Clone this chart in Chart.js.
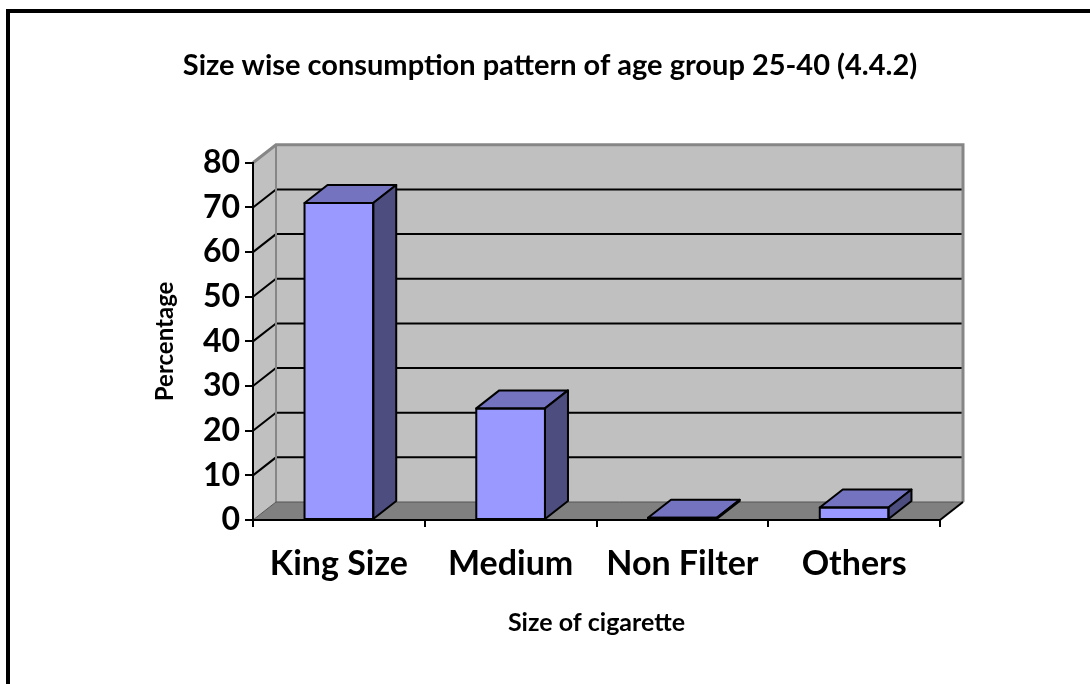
<!DOCTYPE html>
<html>
<head>
<meta charset="utf-8">
<title>Size wise consumption pattern</title>
<script src="https://cdn.jsdelivr.net/npm/chart.js@4.4.1/dist/chart.umd.min.js"></script>
<style>
  html, body { margin: 0; padding: 0; background: #ffffff; }
  canvas { display: block; }
</style>
</head>
<body>
<canvas id="chart" width="1090" height="684"></canvas>
<script>
// ---- data ----
const categories = ['King Size', 'Medium', 'Non Filter', 'Others'];
const percentages = [71, 25, 0.5, 2.8];
const yTickValues = [0, 10, 20, 30, 40, 50, 60, 70, 80];
const chartTitle = 'Size wise consumption pattern of age group 25-40 (4.4.2)';
const xAxisTitle = 'Size of cigarette';
const yAxisTitle = 'Percentage';

// ---- styling ----
const FONT = 'Lato, "Noto Sans", sans-serif';
const DEPTH_X = 23;   // horizontal offset of the back plane
const DEPTH_Y = 18;   // vertical offset of the back plane
const FRONT = '#9999ff';
const TOP = '#7373bf';
const SIDE = '#4d4d80';

function poly(ctx, pts, fill, stroke, lw) {
  ctx.beginPath();
  ctx.moveTo(pts[0][0], pts[0][1]);
  for (let i = 1; i < pts.length; i++) ctx.lineTo(pts[i][0], pts[i][1]);
  ctx.closePath();
  if (fill) { ctx.fillStyle = fill; ctx.fill(); }
  if (stroke) { ctx.strokeStyle = stroke; ctx.lineWidth = lw; ctx.stroke(); }
}

// Frame, walls, floor and the receding gridlines of the 3-D plot box
const plotBox3d = {
  id: 'plotBox3d',
  beforeDraw(chart) {
    const { ctx, chartArea: a, scales: { y } } = chart;
    const L = a.left, R = a.right, T = a.top, B = a.bottom;
    const dx = DEPTH_X, dy = DEPTH_Y;
    ctx.save();

    // outer frame (left and top edges)
    ctx.fillStyle = '#000';
    ctx.fillRect(6, 9, 4, chart.height - 9);
    ctx.fillRect(6, 9, chart.width - 6, 4);

    ctx.lineJoin = 'miter';
    // back wall
    poly(ctx, [[L + dx, T - dy], [R + dx, T - dy], [R + dx, B - dy], [L + dx, B - dy]], '#c0c0c0');
    // side wall
    poly(ctx, [[L, T], [L + dx, T - dy], [L + dx, B - dy], [L, B]], '#c0c0c0');
    // floor
    poly(ctx, [[L, B], [L + dx, B - dy], [R + dx, B - dy], [R, B]], '#808080');

    // gridlines: diagonal on the side wall, horizontal on the back wall
    ctx.strokeStyle = '#000';
    ctx.lineWidth = 2;
    y.ticks.forEach(t => {
      if (t.value <= y.min || t.value >= y.max) return;
      const py = y.getPixelForValue(t.value);
      ctx.beginPath();
      ctx.moveTo(L, py);
      ctx.lineTo(L + dx, py - dy);
      ctx.lineTo(R + dx, py - dy);
      ctx.stroke();
    });

    // wall edges
    ctx.strokeStyle = '#868686';
    ctx.lineWidth = 3;
    ctx.beginPath();
    ctx.moveTo(L, T);
    ctx.lineTo(L + dx, T - dy);
    ctx.lineTo(R + dx, T - dy);
    ctx.lineTo(R + dx, B - dy);
    ctx.stroke();
    ctx.lineWidth = 2;
    ctx.beginPath();
    ctx.moveTo(L + dx, T - dy);
    ctx.lineTo(L + dx, B - dy);
    ctx.stroke();

    // floor edges
    ctx.strokeStyle = '#555';
    ctx.lineWidth = 1;
    ctx.beginPath();
    ctx.moveTo(L, B);
    ctx.lineTo(L + dx, B - dy);
    ctx.lineTo(R + dx, B - dy);
    ctx.stroke();
    ctx.strokeStyle = '#000';
    ctx.lineWidth = 2;
    ctx.beginPath();
    ctx.moveTo(R, B);
    ctx.lineTo(R + dx, B - dy);
    ctx.stroke();

    ctx.restore();
  }
};

// Top and side faces of each column
const columns3d = {
  id: 'columns3d',
  afterDatasetsDraw(chart) {
    const { ctx } = chart;
    const dx = DEPTH_X, dy = DEPTH_Y;
    ctx.save();
    ctx.lineJoin = 'round';
    chart.getDatasetMeta(0).data.forEach(bar => {
      const { x, y, base, width } = bar.getProps(['x', 'y', 'base', 'width'], true);
      const x0 = x - width / 2, x1 = x + width / 2;
      poly(ctx, [[x0, y], [x0 + dx, y - dy], [x1 + dx, y - dy], [x1, y]], TOP, '#000', 2);
      poly(ctx, [[x1, y], [x1 + dx, y - dy], [x1 + dx, base - dy], [x1, base]], SIDE, '#000', 2);
      poly(ctx, [[x0, y], [x1, y], [x1, base], [x0, base]], null, '#000', 2);
    });
    ctx.restore();
  }
};

new Chart(document.getElementById('chart'), {
  type: 'bar',
  data: {
    labels: categories,
    datasets: [{
      data: percentages,
      backgroundColor: FRONT,
      borderColor: '#000',
      borderWidth: 0,
      barPercentage: 0.4,
      categoryPercentage: 1.0
    }]
  },
  options: {
    responsive: false,
    animation: false,
    devicePixelRatio: 1,
    layout: { padding: { left: 10, right: 0, top: 0, bottom: 0 } },
    plugins: {
      legend: { display: false },
      tooltip: { enabled: false },
      title: {
        display: true,
        text: chartTitle,
        color: '#000',
        font: { family: FONT, size: 29, weight: 'bold' },
        padding: { top: 48, bottom: 80 }
      }
    },
    scales: {
      x: {
        ticks: {
          color: '#000',
          font: { family: FONT, size: 34, weight: 'bold' },
          padding: 17,
          maxRotation: 0,
          autoSkip: false
        },
        grid: { drawOnChartArea: false, drawTicks: true, tickLength: 7, color: '#000', lineWidth: 2, offset: true },
        border: { display: true, color: '#000', width: 2 },
        title: {
          display: true,
          text: xAxisTitle,
          color: '#000',
          font: { family: FONT, size: 25, weight: 'bold' },
          padding: { top: 0, bottom: 46 }
        },
        afterFit(scale) { scale.height = 164; }
      },
      y: {
        min: 0,
        max: 80,
        afterBuildTicks(scale) { scale.ticks = yTickValues.map(v => ({ value: v })); },
        ticks: {
          color: '#000',
          font: { family: FONT, size: 32, weight: 'bold' },
          padding: 5
        },
        grid: { drawOnChartArea: false, drawTicks: true, tickLength: 8, color: '#000', lineWidth: 2 },
        border: { display: true, color: '#000', width: 2 },
        title: {
          display: true,
          text: yAxisTitle,
          color: '#000',
          font: { family: FONT, size: 24, weight: 'bold' },
          padding: { top: 141, bottom: 0 }
        },
        afterFit(scale) { scale.width = 243; }
      },
      // keeps the plot clear of the right-hand margin
      margin: {
        type: 'linear',
        position: 'right',
        display: true,
        grid: { display: false, drawTicks: false },
        border: { display: false },
        ticks: { display: false },
        afterFit(scale) { scale.width = 150; }
      }
    }
  },
  plugins: [plotBox3d, columns3d]
});
</script>
</body>
</html>
